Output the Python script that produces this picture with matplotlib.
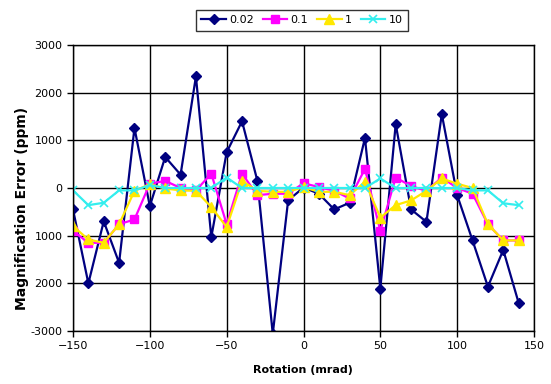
import matplotlib
matplotlib.use("Agg")
import matplotlib.pyplot as plt

rotation = list(range(-150, 150, 10))

s_002 = [-450, -2000, -700, -1570, 1260, -380, 650, 280, 2340, -1030,
         750, 1400, 150, -3060, -260, 10, -120, -450, -310, 1050,
         -2110, 1340, -450, -710, 1550, -150, -1100, -2070, -1300, -2410]
s_01 = [-900, -1150, -1150, -760, -660, 90, 150, 0, -50, 300,
        -760, 300, -150, -120, -120, 100, 20, -60, -220, 400,
        -900, 220, 40, -60, 220, 0, -120, -760, -1100, -1100]
s_1 = [-800, -1080, -1150, -760, -60, 80, -10, -50, -60, -400,
       -820, 150, -60, -80, -80, 20, -80, -80, -150, 130,
       -620, -360, -260, -60, 200, 90, 0, -760, -1100, -1100]
s_10 = [-50, -360, -310, -50, -50, 60, 0, 0, 0, 0,
        220, 0, 0, 0, 0, 0, 0, 0, 0, 0,
        200, 0, 0, 0, 0, 0, -50, -50, -320, -360]

series_names = ["0.02", "0.1", "1", "10"]
x_ticks = [-150, -100, -50, 0, 50, 100, 150]
y_ticks = [3000, 2000, 1000, 0, -1000, -2000, -3000]
y_tick_labels = ["3000", "2000", "1000", "0", "1000", "2000", "-3000"]

plt.rcParams['font.family'] = ['DejaVu Sans']
fig = plt.figure(figsize=(5.51, 3.84), dpi=100)
ax = fig.add_axes([73/551, 1-331/384, (534-73)/551, (331-45)/384])

styles = [
    dict(color='#000080', marker='D', ms=5.5),
    dict(color='#FF00FF', marker='s', ms=6),
    dict(color='#FFE800', marker='^', ms=7),
    dict(color='#33EEEE', marker='x', ms=6, mew=1.2),
]
data = [s_002, s_01, s_1, s_10]
handles = []
for name, ys, st in zip(series_names, data, styles):
    h, = ax.plot(rotation, ys, lw=1.6, label=name, **st)
    handles.append(h)

ax.set_xlim(-150, 150)
ax.set_ylim(-3000, 3000)
ax.set_xticks(x_ticks)
ax.set_yticks(y_ticks)
ax.set_yticklabels(y_tick_labels)
ax.grid(True, color='black', lw=1)
ax.set_axisbelow(True)
ax.tick_params(direction='out', length=4, width=1, labelsize=8, colors='black')
for sp in ax.spines.values():
    sp.set_linewidth(1)
    sp.set_color('black')

ax.set_xlabel("Rotation (mrad)", fontsize=8, fontweight='bold')
ax.set_ylabel("Magnification Error (ppm)", fontsize=10, fontweight='bold')
ax.xaxis.set_label_coords(0.499, -0.136, transform=ax.transAxes)
ax.yaxis.set_label_coords(-0.11, 0.43, transform=ax.transAxes)
ax.xaxis.label.set_va('center')
ax.yaxis.label.set_va('center')

leg = fig.legend(handles=handles, loc='upper center', bbox_to_anchor=(302/551, 1-4/384),
                 ncol=4, fontsize=8, frameon=True, fancybox=False, edgecolor='black',
                 handlelength=2.2, handletextpad=0.3, columnspacing=0.8,
                 borderpad=0.5)
leg.get_frame().set_linewidth(1)

fig.savefig("out.png", dpi=100)
